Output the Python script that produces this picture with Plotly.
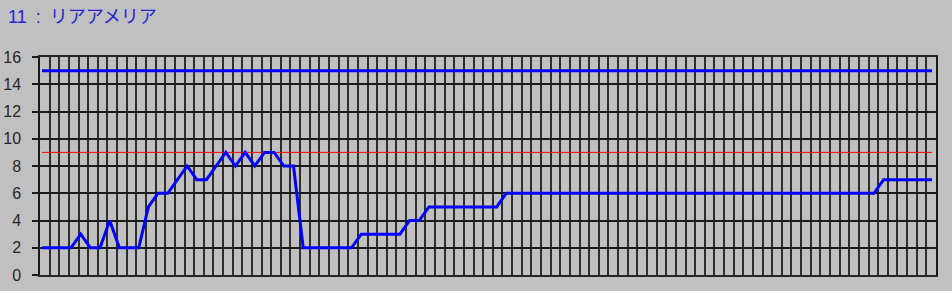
import plotly.graph_objects as go

title_text = "11\u2002:\u2002リアアメリア"

values = [2, 2, 2, 2, 3, 2, 2, 4, 2, 2,
          2, 5, 6, 6, 7, 8, 7, 7, 8, 9,
          8, 9, 8, 9, 9, 8, 8, 2, 2, 2,
          2, 2, 2, 3, 3, 3, 3, 3, 4, 4,
          5, 5, 5, 5, 5, 5, 5, 5, 6, 6,
          6, 6, 6, 6, 6, 6, 6, 6, 6, 6,
          6, 6, 6, 6, 6, 6, 6, 6, 6, 6,
          6, 6, 6, 6, 6, 6, 6, 6, 6, 6,
          6, 6, 6, 6, 6, 6, 6, 7, 7, 7,
          7, 7, 7]
steps = list(range(len(values)))

limit_x = [0, 92]
upper_limit = [15, 15]
warn_limit = [9, 9]

y_ticks = [0, 2, 4, 6, 8, 10, 12, 14, 16]

# axis geometry (pixels)
W, H = 952, 291
L, R, T, B = 40, 16, 57, 16
plot_w = W - L - R
px_per_unit = (932 - 42) / (limit_x[1] - limit_x[0])
x0 = limit_x[0] - (42 - L) / px_per_unit
x1 = x0 + plot_w / px_per_unit
n_cols = 93

fig = go.Figure()
fig.add_trace(go.Scatter(x=limit_x, y=upper_limit, mode="lines",
                         line=dict(color="#0000ff", width=3), hoverinfo="skip"))
fig.add_trace(go.Scatter(x=limit_x, y=warn_limit, mode="lines",
                         line=dict(color="#ff0000", width=1), hoverinfo="skip"))
fig.add_trace(go.Scatter(x=steps, y=values, mode="lines",
                         line=dict(color="#0000ff", width=3)))

fig.update_layout(
    width=W, height=H,
    autosize=False,
    margin=dict(l=L, r=R, t=T, b=B, pad=0, autoexpand=False),
    paper_bgcolor="#c0c0c0",
    plot_bgcolor="#c0c0c0",
    showlegend=False,
    title=dict(text=title_text, x=8 / W, xref="container", xanchor="left",
               y=1 - 17 / H, yref="container", yanchor="middle",
               font=dict(family="Liberation Sans, Noto Sans CJK JP, sans-serif",
                         size=18, color="#2424d0")),
    xaxis=dict(range=[x0, x1], tick0=x0, dtick=(x1 - x0) / n_cols,
               showgrid=True, gridcolor="#2e2e2e", gridwidth=1.5,
               showticklabels=False, ticks="", zeroline=False, automargin=False,
               showline=True, linecolor="#262626", linewidth=1.5, mirror=True),
    yaxis=dict(range=[0, 16], tickvals=y_ticks, showgrid=True, automargin=False,
               gridcolor="#1a1a1a", gridwidth=1.5, zeroline=False,
               ticks="outside", ticklen=6, tickcolor="#1a1a1a", tickwidth=1.5,
               ticklabelstandoff=8,
               tickfont=dict(family="Liberation Sans, Arial, sans-serif",
                             size=16, color="#262626"),
               showline=True, linecolor="#1a1a1a", linewidth=1.5, mirror=True),
)

fig.write_html("out.html")
